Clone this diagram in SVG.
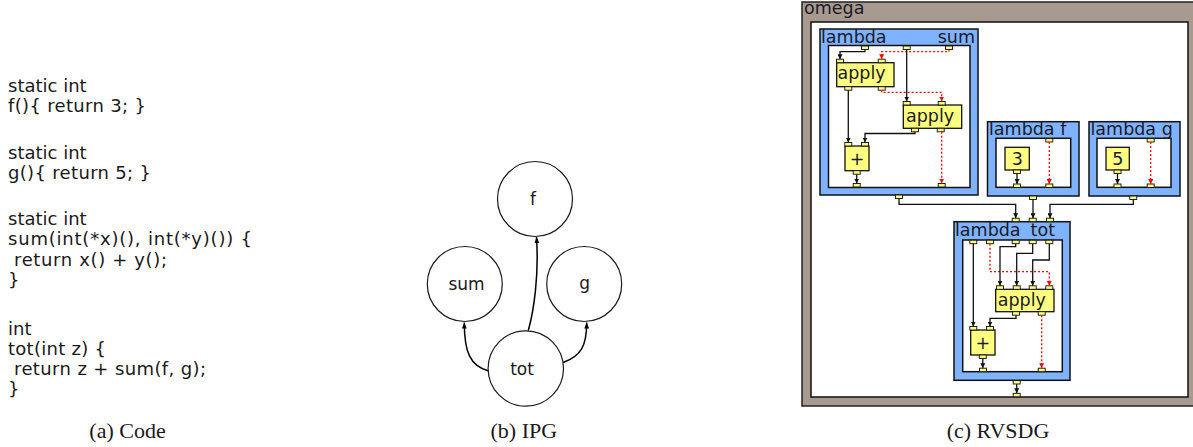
<svg xmlns="http://www.w3.org/2000/svg" width="1193" height="447" viewBox="0 0 1193 447">
<style>
.code{font-family:"DejaVu Sans",Verdana,sans-serif;font-size:18px;fill:#1a1a1a}
.cap{font-family:"Liberation Serif","Times New Roman",serif;font-size:22px;fill:#1a1a1a;text-anchor:middle}
.ipg{font-family:"DejaVu Sans",sans-serif;font-size:17px;fill:#1a1a1a;text-anchor:middle}
.circ{fill:#fff;stroke:#1a1a1a;stroke-width:1.2}
.iedge{fill:none;stroke:#000;stroke-width:1.5;marker-end:url(#ai)}
.lbl{font-family:"DejaVu Sans",Verdana,sans-serif;font-size:17.5px;fill:#1a1a2a}
.omega{fill:#a89a8f;stroke:#222;stroke-width:1.5}
.lam{fill:#80b3ff;stroke:#111;stroke-width:1.5}
.reg{fill:#fff;stroke:#111;stroke-width:1.5}
.nd{fill:#ffff80;stroke:#111;stroke-width:1.3}
.pt{fill:#ffff80;stroke:#111;stroke-width:0.9}
.e{fill:none;stroke:#111;stroke-width:1.3;marker-end:url(#ab)}
.r{fill:none;stroke:#f00;stroke-width:1.3;stroke-dasharray:2,2;marker-end:url(#ar)}
</style>
<defs>
<marker id="ab" viewBox="0 0 5 5" refX="5" refY="2.5" markerWidth="5" markerHeight="5" markerUnits="userSpaceOnUse" orient="auto"><path d="M0,0 L5,2.5 L0,5 z" fill="#111"/></marker>
<marker id="ar" viewBox="0 0 5 5" refX="5" refY="2.5" markerWidth="5" markerHeight="5" markerUnits="userSpaceOnUse" orient="auto"><path d="M0,0 L5,2.5 L0,5 z" fill="#f00"/></marker>
<marker id="ai" viewBox="0 0 6 6" refX="6" refY="3" markerWidth="6" markerHeight="6" markerUnits="userSpaceOnUse" orient="auto"><path d="M0,0.6 L6,3 L0,5.4 z" fill="#000"/></marker>
</defs>

<!-- (a) Code -->
<g id="code">
<text class="code" x="8" y="91.8">static int</text>
<text class="code" x="8" y="111.8" textLength="138" lengthAdjust="spacing">f(){ return 3; }</text>
<text class="code" x="8" y="158.5">static int</text>
<text class="code" x="8" y="178.5" textLength="143" lengthAdjust="spacing">g(){ return 5; }</text>
<text class="code" x="8" y="225.2">static int</text>
<text class="code" x="8" y="245.2" textLength="244" lengthAdjust="spacing">sum(int(*x)(), int(*y)()) {</text>
<text class="code" x="14" y="265.5" textLength="153" lengthAdjust="spacing">return x() + y();</text>
<text class="code" x="8" y="285.5">}</text>
<text class="code" x="8" y="335.2">int</text>
<text class="code" x="8" y="355.2" textLength="98" lengthAdjust="spacing">tot(int z) {</text>
<text class="code" x="14" y="375.2" textLength="192" lengthAdjust="spacing">return z + sum(f, g);</text>
<text class="code" x="8" y="395.2">}</text>
</g>
<text class="cap" x="127.5" y="438">(a) Code</text>

<!-- (b) IPG -->
<g id="ipg-edges">
<path class="iedge" d="M488.6,371 C470,366 464.3,352 464.3,322.5"/>
<path class="iedge" d="M563.2,362.5 C581,356 586.7,346 586.7,322.5"/>
<path class="iedge" d="M528.3,330.5 C534,310 539,275 536.5,237"/>
</g>
<g id="ipg-f"><circle class="circ" cx="535" cy="199" r="37.5"/><text class="ipg" x="533" y="205">f</text></g>
<g id="ipg-sum"><circle class="circ" cx="464.8" cy="284" r="37.5"/><text class="ipg" x="466.5" y="290">sum</text></g>
<g id="ipg-g"><circle class="circ" cx="584.2" cy="284" r="37.5"/><text class="ipg" x="584.7" y="289">g</text></g>
<g id="ipg-tot"><circle class="circ" cx="525.8" cy="368.5" r="37.7"/><text class="ipg" x="522" y="375">tot</text></g>
<text class="cap" x="523.8" y="438">(b) IPG</text>

<!-- (c) RVSDG -->
<g id="omega">
<rect class="omega" x="802" y="2" width="395" height="404"/>
<rect class="reg" x="811" y="22" width="377" height="375"/>
<text class="lbl" x="804" y="14">omega</text>
</g>

<g id="lambda-sum">
<rect class="lam" x="820" y="29" width="158" height="166"/>
<rect class="reg" x="828.5" y="45.5" width="141.5" height="142"/>
<text class="lbl" x="821" y="42.5">lambda</text>
<text class="lbl" x="975" y="42.5" text-anchor="end">sum</text>
<rect class="pt" x="861.5" y="46" width="7" height="3.5"/>
<rect class="pt" x="903.2" y="46" width="7" height="3.5"/>
<rect class="pt" x="945.5" y="46" width="7" height="3.5"/>
<g id="apply1">
<rect class="nd" x="836.7" y="62.7" width="57.3" height="24"/>
<text class="lbl" x="837.5" y="79">apply</text>
<rect class="pt" x="836.5" y="59.2" width="7" height="3.5"/>
<rect class="pt" x="878.2" y="59.2" width="7" height="3.5"/>
<rect class="pt" x="844.8" y="86.7" width="7" height="3.5"/>
<rect class="pt" x="878.2" y="86.7" width="7" height="3.5"/>
</g>
<g id="apply2">
<rect class="nd" x="903.3" y="105" width="58.4" height="23.3"/>
<text class="lbl" x="906" y="121.7">apply</text>
<rect class="pt" x="903.2" y="101.5" width="7" height="3.5"/>
<rect class="pt" x="938.2" y="101.5" width="7" height="3.5"/>
<rect class="pt" x="911.5" y="128.3" width="7" height="3.5"/>
<rect class="pt" x="937.2" y="128.3" width="7" height="3.5"/>
</g>
<g id="plus1">
<rect class="nd" x="845" y="146" width="24" height="24.7"/>
<text class="lbl" x="857" y="164.5" text-anchor="middle">+</text>
<rect class="pt" x="844.8" y="142.5" width="7" height="3.5"/>
<rect class="pt" x="861.5" y="142.5" width="7" height="3.5"/>
<rect class="pt" x="853.2" y="170.7" width="7" height="3.5"/>
</g>
<rect class="pt" x="853.2" y="183.5" width="7" height="3.5"/>
<rect class="pt" x="938.2" y="183.5" width="7" height="3.5"/>
<rect class="pt" x="895.5" y="195" width="7" height="3.5"/>
</g>

<g id="lambda-f">
<rect class="lam" x="987.5" y="121.7" width="91.5" height="74.3"/>
<rect class="reg" x="996" y="138.3" width="74.7" height="49"/>
<text class="lbl" x="989" y="135">lambda f</text>
<rect class="pt" x="1045.8" y="138.5" width="7" height="3.5"/>
<g id="const3">
<rect class="nd" x="1005" y="147.3" width="24.3" height="22.7"/>
<text class="lbl" x="1017.2" y="165" text-anchor="middle">3</text>
<rect class="pt" x="1013.5" y="170" width="7" height="3.5"/>
</g>
<rect class="pt" x="1013.5" y="184" width="7" height="3.5"/>
<rect class="pt" x="1045.8" y="184" width="7" height="3.5"/>
<rect class="pt" x="1029.5" y="196" width="7" height="3.5"/>
</g>

<g id="lambda-g">
<rect class="lam" x="1089" y="121.7" width="91" height="74.3"/>
<rect class="reg" x="1097" y="138.3" width="74" height="49"/>
<text class="lbl" x="1090.5" y="135">lambda g</text>
<rect class="pt" x="1147.2" y="138.5" width="7" height="3.5"/>
<g id="const5">
<rect class="nd" x="1106" y="147.3" width="23.3" height="22.7"/>
<text class="lbl" x="1117.7" y="165" text-anchor="middle">5</text>
<rect class="pt" x="1114" y="170" width="7" height="3.5"/>
</g>
<rect class="pt" x="1114" y="184" width="7" height="3.5"/>
<rect class="pt" x="1147.2" y="184" width="7" height="3.5"/>
<rect class="pt" x="1129.8" y="196" width="7" height="3.5"/>
</g>

<g id="lambda-tot">
<rect class="lam" x="954" y="221.7" width="116" height="158.6"/>
<rect class="reg" x="962.7" y="240" width="99.6" height="131.7"/>
<text class="lbl" x="955" y="236">lambda</text>
<text class="lbl" x="1055" y="236" text-anchor="end">tot</text>
<rect class="pt" x="1012.2" y="218.2" width="7" height="3.5"/>
<rect class="pt" x="1029.2" y="218.2" width="7" height="3.5"/>
<rect class="pt" x="1046.5" y="218.2" width="7" height="3.5"/>
<rect class="pt" x="969.8" y="240.2" width="7" height="3.5"/>
<rect class="pt" x="986.5" y="240.2" width="7" height="3.5"/>
<rect class="pt" x="1012.2" y="240.2" width="7" height="3.5"/>
<rect class="pt" x="1029.2" y="240.2" width="7" height="3.5"/>
<rect class="pt" x="1045.8" y="240.2" width="7" height="3.5"/>
<g id="apply3">
<rect class="nd" x="995.7" y="289.3" width="58.3" height="22.4"/>
<text class="lbl" x="997.7" y="306">apply</text>
<rect class="pt" x="996.5" y="285.8" width="7" height="3.5"/>
<rect class="pt" x="1013.2" y="285.8" width="7" height="3.5"/>
<rect class="pt" x="1029.2" y="285.8" width="7" height="3.5"/>
<rect class="pt" x="1045.8" y="285.8" width="7" height="3.5"/>
<rect class="pt" x="1012.5" y="311.7" width="7" height="3.5"/>
<rect class="pt" x="1038.2" y="311.7" width="7" height="3.5"/>
</g>
<g id="plus2">
<rect class="nd" x="970.7" y="330" width="24.3" height="25"/>
<text class="lbl" x="982.8" y="348.5" text-anchor="middle">+</text>
<rect class="pt" x="969.8" y="326.5" width="7" height="3.5"/>
<rect class="pt" x="986.5" y="326.5" width="7" height="3.5"/>
<rect class="pt" x="979.3" y="355" width="7" height="3.5"/>
</g>
<rect class="pt" x="979.5" y="368.2" width="7" height="3.5"/>
<rect class="pt" x="1038.2" y="368.2" width="7" height="3.5"/>
<rect class="pt" x="1013.2" y="380.5" width="7" height="3.5"/>
</g>
<rect id="omega-result" class="pt" x="1013.2" y="393.3" width="7" height="3.5"/>

<g id="connectors">
<path class="e" d="M865,49.5 V51.7 H840 V59.2"/>
<path class="r" d="M949,49.5 V51.7 H881.7 V59.2"/>
<path class="e" d="M906.7,49.5 V101.5"/>
<path class="r" d="M881.7,90.2 V92.3 H941.7 V101.5"/>
<path class="e" d="M848.3,90.2 V142.5"/>
<path class="e" d="M915,131.8 V133.5 H865 V142.5"/>
<path class="e" d="M856.7,174.2 V183.5"/>
<path class="r" d="M941.7,131.8 V183.5"/>
<path class="e" d="M1017,173.5 V184"/>
<path class="r" d="M1049.3,142 V184"/>
<path class="e" d="M1117.5,173.5 V184"/>
<path class="r" d="M1150.7,142 V184"/>
<path class="e" d="M899,198.5 V204.3 H1015.7 V218.2"/>
<path class="e" d="M1033,199.5 V218.2"/>
<path class="e" d="M1133.3,199.5 V204.3 H1050 V218.2"/>
<path class="e" d="M973.3,243.7 V326.5"/>
<path class="r" d="M990,243.7 V271.7 H1049.3 V285.8"/>
<path class="e" d="M1015.7,243.7 V246.7 H1000 V285.8"/>
<path class="e" d="M1032.7,243.7 V253.3 H1016.7 V285.8"/>
<path class="e" d="M1049.3,243.7 V260 H1032.7 V285.8"/>
<path class="e" d="M1016,315.2 V318.3 H990 V326.5"/>
<path class="e" d="M982.8,358.5 V368.2"/>
<path class="r" d="M1041.7,315.2 V368.2"/>
<path class="e" d="M1016.7,384 V393.3"/>
</g>
<text class="cap" x="998" y="438">(c) RVSDG</text>
</svg>
